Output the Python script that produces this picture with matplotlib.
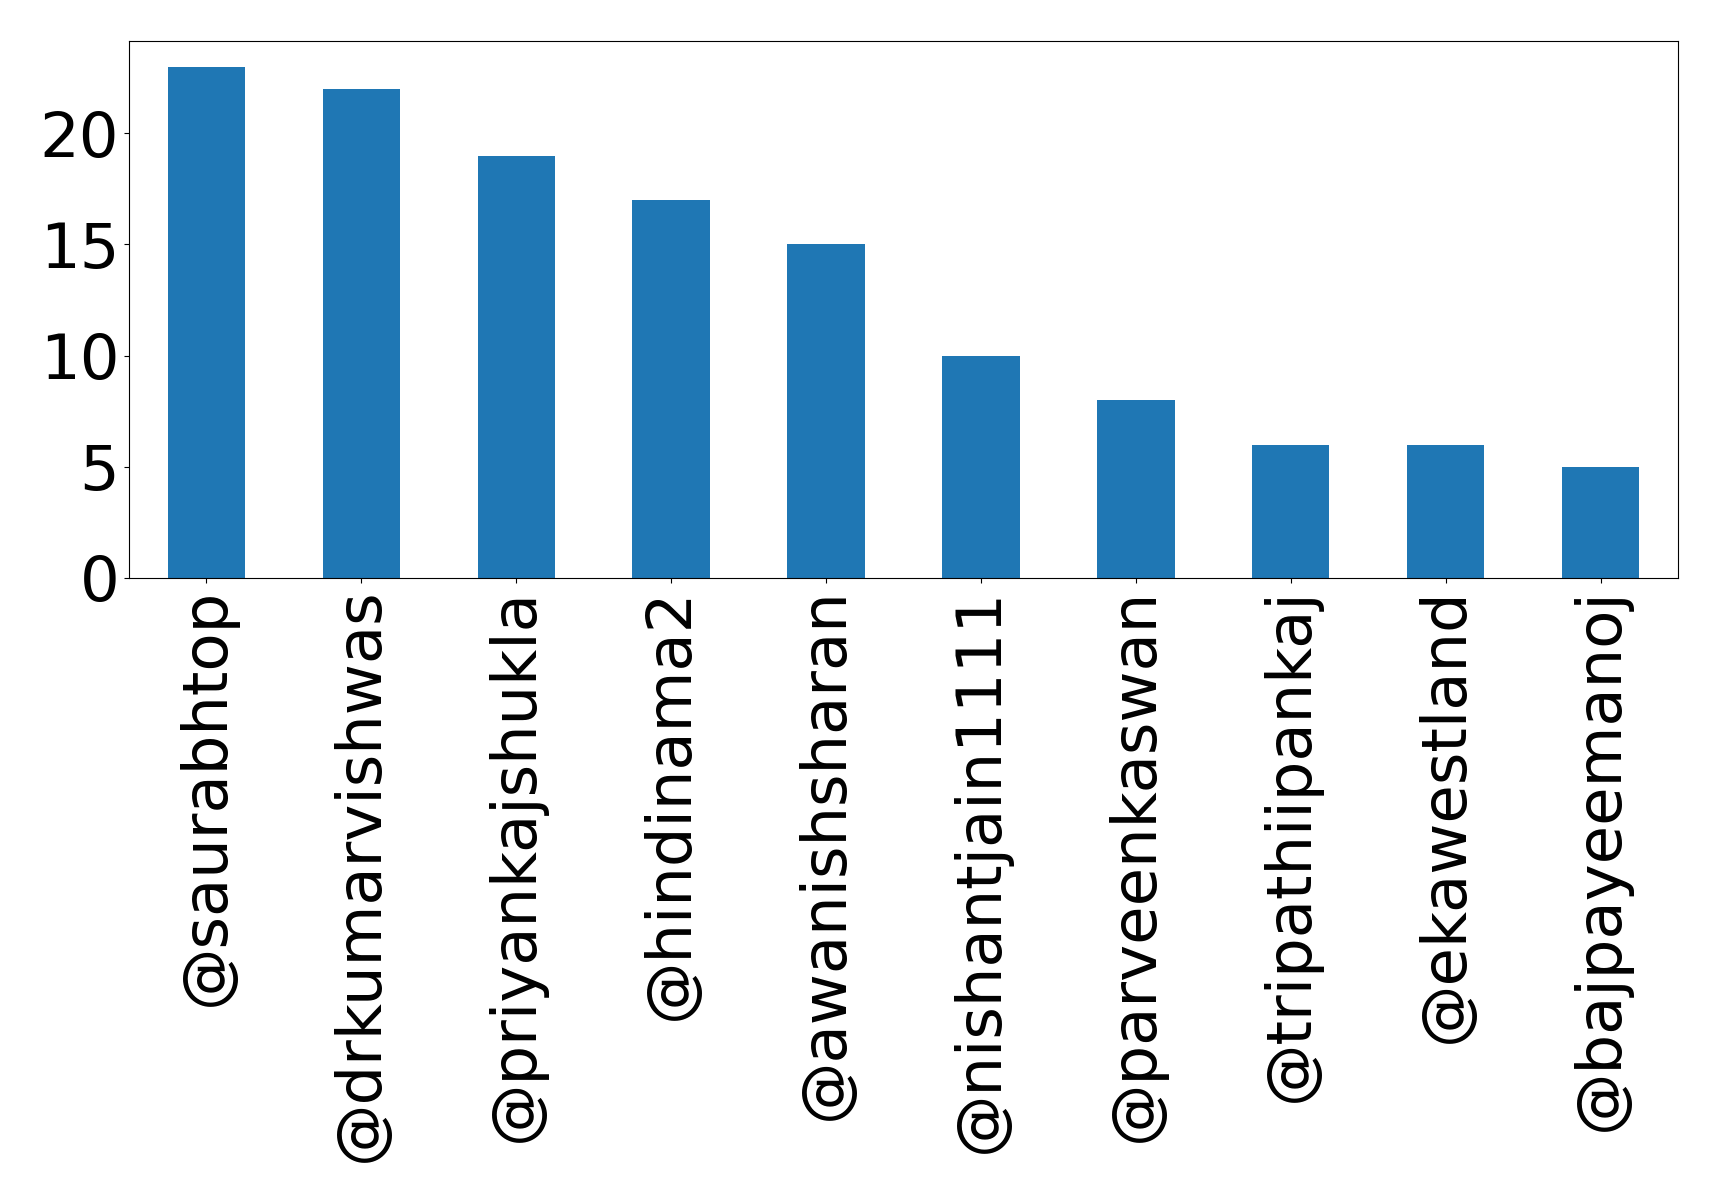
import matplotlib
matplotlib.use("Agg")
import matplotlib.pyplot as plt
import numpy as np

users = ["@saurabhtop", "@drkumarvishwas", "@priyankajshukla", "@hindinama2",
         "@awanishsharan", "@nishantjain1111", "@parveenkaswan", "@tripathiipankaj",
         "@ekawestland", "@bajpayeemanoj"]
counts = [23, 22, 19, 17, 15, 10, 8, 6, 6, 5]

fig = plt.figure(figsize=(17.19, 12.03), dpi=100)
ax = fig.add_axes([129/1719, 1 - 578/1203, (1678-129)/1719, (578-41)/1203])
x = np.arange(len(users))
ax.bar(x, counts, width=0.5, color="#1f77b4")
ax.set_xlim(-0.5, len(users) - 0.5)
ax.set_ylim(0, max(counts) * 1.05)
ax.set_xticks(x)
ax.set_xticklabels(users, rotation=90, fontsize=45)
ax.set_yticks([0, 5, 10, 15, 20])
ax.tick_params(axis="y", labelsize=45)
fig.savefig("out.png", dpi=100)
